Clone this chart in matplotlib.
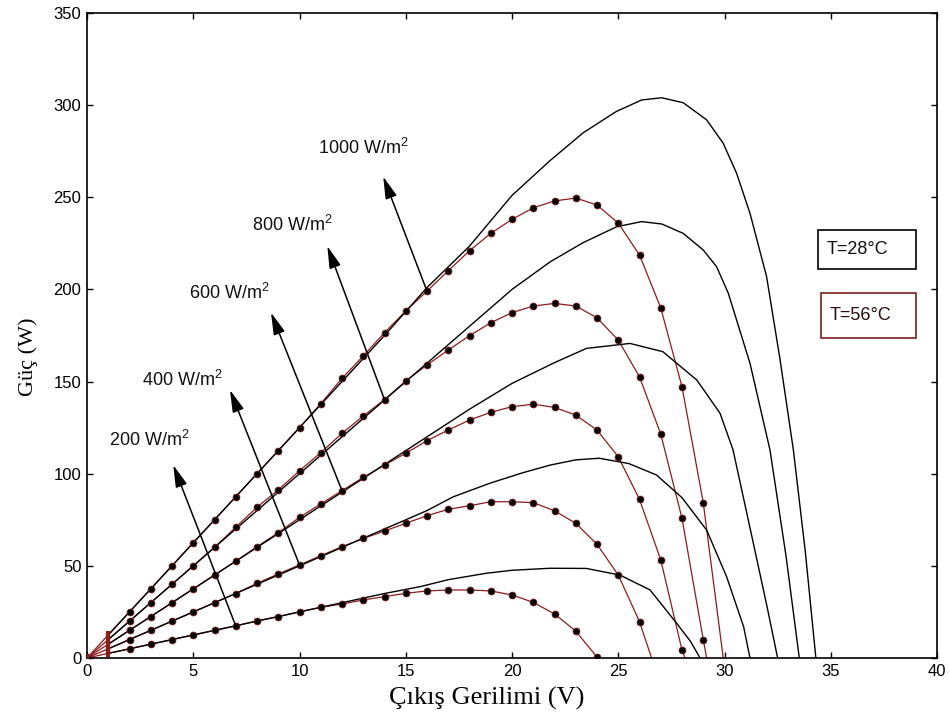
import matplotlib
matplotlib.use("Agg")
import matplotlib.pyplot as plt
from matplotlib.patches import Rectangle

plt.rcParams["font.family"] = ["Liberation Sans", "DejaVu Sans"]
plt.rcParams["mathtext.fontset"] = "custom"
plt.rcParams["mathtext.rm"] = "Liberation Sans"

# ---------------- data ----------------
irradiance_labels = ["200 W/m$\\mathregular{^2}$", "400 W/m$\\mathregular{^2}$",
                     "600 W/m$\\mathregular{^2}$", "800 W/m$\\mathregular{^2}$",
                     "1000 W/m$\\mathregular{^2}$"]

# T = 28 °C (solid black curves)
cold_v_200 = [1, 2, 4, 6, 8, 10, 12, 14, 15.67, 17, 18.8, 20, 21.79, 23.5, 25.08, 26.5, 27.75, 28.4, 28.85]
cold_p_200 = [2.5, 5, 10, 15, 20, 25, 30, 35, 38.7, 42.5, 46, 47.6, 48.7, 48.6, 45, 36.9, 18.8, 9, 0]

cold_v_400 = [1, 2, 4, 6, 8, 10, 12, 14, 16, 17.24, 19, 20.5, 21.8, 23, 24.1, 25.5, 26.8, 28, 29.16, 30.1, 30.9, 31.2]
cold_p_400 = [5, 10, 20, 30, 40, 50, 60, 70, 80, 87.5, 95, 100.5, 104.7, 107.5, 108.4, 105.5, 99.3, 87, 69.4, 44.1, 17, 0]

cold_v_600 = [1, 2, 4, 6, 8, 10, 12, 14, 16, 18, 20, 21.95, 23.5, 25.55, 27.1, 28.7, 29.79, 30.4, 31.4, 32.0, 32.5]
cold_p_600 = [7.5, 15, 30, 45, 60, 75, 90, 105, 120, 135, 149, 160, 168, 170.7, 166.2, 150.8, 132.8, 113, 60, 28, 0]

cold_v_800 = [1, 2, 4, 6, 8, 10, 12, 14, 16, 18, 20, 21.8, 23.35, 24.92, 26.1, 27.05, 28.06, 29, 29.63, 30.18, 31.2, 32.14, 32.9, 33.52]
cold_p_800 = [10, 20, 40, 60, 80, 100, 120, 140, 160, 180, 200, 215, 225.4, 234, 236.8, 235.5, 230.4, 221.4, 212.3, 197.9, 159.9, 112.9, 55, 0]

cold_v_1000 = [1, 2, 4, 6, 8, 10, 12, 14, 16, 18, 20, 21.8, 23.35, 24.9, 26.1, 27.05, 28.06, 29.16, 29.94, 30.57, 31.2, 31.98, 32.6, 33.24, 33.8, 34.3]
cold_p_1000 = [12.5, 25, 50, 75, 100, 125, 150, 175, 201, 223.5, 251, 270, 285, 296.5, 302.8, 304, 301.3, 292, 279.3, 263, 241.3, 207, 163, 113, 58, 0]

# T = 56 °C (dark red curves, sampled every 1 V, last entry = open-circuit voltage)
hot_v_200 = list(range(0, 25))
hot_p_200 = [0, 2.5, 5, 7.5, 10, 12.5, 15, 17.4, 20.2, 22.4, 25.1, 27.5, 29.3, 31.5, 33.3,
             35.1, 36.4, 36.9, 36.9, 36.4, 34.2, 30.2, 23.9, 14.6, 0.5]

hot_v_400 = list(range(0, 27)) + [26.57]
hot_p_400 = [0, 5, 10, 15, 20, 25, 30, 35, 40.5, 45.6, 50.5, 55.5, 60.4, 64.9, 68.9, 73.1,
             77.2, 80.7, 82.6, 84.8, 84.8, 84.3, 79.9, 73.1, 61.7, 45, 19.7, 0]

hot_v_600 = list(range(0, 29)) + [28.14]
hot_p_600 = [0, 7.5, 15, 22.5, 30, 37.5, 45, 52.5, 60.4, 68, 76.3, 83.6, 90.8, 98, 104.7,
             111.1, 117.9, 123.7, 129.1, 133.3, 136.4, 137.7, 136, 131.8, 123.7, 109.2,
             86.1, 53.2, 4.3, 0]

hot_v_800 = list(range(0, 30)) + [29.16]
hot_p_800 = [0, 10, 20, 30, 40, 50, 60, 71, 81.8, 91.2, 101.6, 111.4, 121.9, 131.3, 140.2,
             150.3, 159, 167.1, 174.9, 181.9, 187.4, 191, 192.4, 191, 184.6, 172.5, 152.6,
             121.5, 75.8, 10, 0]

hot_v_1000 = list(range(0, 30)) + [29.94]
hot_p_1000 = [0, 12.5, 25, 37.5, 50, 62.5, 75, 87.5, 100, 112.5, 125, 138, 151.7, 163.9,
              176.5, 188.3, 199.1, 210.1, 221, 230.4, 238, 244.3, 248, 249.6, 245.8, 236,
              218.7, 190, 147.2, 84.3, 0]

# arrows: start on a 56 °C curve sample, pointing to the label
arrow_tail_index = [7, 10, 12, 14, 16]
arrow_head_v = [4.06, 6.73, 8.66, 11.31, 13.94]
arrow_head_p = [104.7, 145.4, 187.4, 223.5, 261.2]
label_v = [2.93, 4.5, 6.7, 9.65, 12.99]
label_p = [118.3, 150.8, 197.9, 234.9, 276.7]

x_ticks = [0, 5, 10, 15, 20, 25, 30, 35, 40]
y_ticks = [0, 50, 100, 150, 200, 250, 300, 350]

# ---------------- figure ----------------
RED = "#8a1c1c"
fig = plt.figure(figsize=(9.49, 7.13), dpi=100)
ax = fig.add_axes([87 / 949, 55 / 713, 850 / 949, 645 / 713])

cold = [(cold_v_200, cold_p_200), (cold_v_400, cold_p_400), (cold_v_600, cold_p_600),
        (cold_v_800, cold_p_800), (cold_v_1000, cold_p_1000)]
hot = [(hot_v_200, hot_p_200), (hot_v_400, hot_p_400), (hot_v_600, hot_p_600),
       (hot_v_800, hot_p_800), (hot_v_1000, hot_p_1000)]

for v, p in hot:
    ax.plot(v, p, color=RED, lw=0.9, zorder=2)
    n_int = sum(1 for x in v if float(x).is_integer())
    ax.plot(v[2:n_int], p[2:n_int], ls="none", marker="o", ms=5,
            mfc="black", mec=RED, mew=0.5, zorder=5)
    ax.plot(v[:2], p[:2], ls="none", marker="|", ms=6, mew=3, color=RED, zorder=4)

for v, p in cold:
    ax.plot(v, p, color="black", lw=1.0, zorder=3)

for (v, p), i, hv, hp, lv, lp, txt in zip(hot, arrow_tail_index, arrow_head_v, arrow_head_p,
                                         label_v, label_p, irradiance_labels):
    ax.annotate("", xy=(hv, hp), xytext=(v[i], p[i]),
                arrowprops=dict(arrowstyle="-|>,head_length=0.75,head_width=0.2",
                                color="black", lw=1.1, mutation_scale=18,
                                shrinkA=0, shrinkB=0), zorder=6)
    ax.text(lv, lp, txt, ha="center", va="center", fontsize=13, color="#111111", zorder=6)

# temperature boxes
ax.add_patch(Rectangle((34.4, 211.1), 4.6, 21.1, fill=False, ec="black", lw=1.2, zorder=6))
ax.text(34.8, 221.6, "T=28°C", ha="left", va="center", fontsize=13, color="#111111", zorder=7)
ax.add_patch(Rectangle((34.56, 173.6), 4.44, 24.4, fill=False, ec="#7a1f1f", lw=1.2, zorder=6))
ax.text(34.93, 186.0, "T=56°C", ha="left", va="center", fontsize=13, color="#2a0c0c", zorder=7)

ax.set_xlim(0, 40)
ax.set_ylim(0, 350)
ax.set_xticks(x_ticks)
ax.set_yticks(y_ticks)
ax.tick_params(direction="in", length=4, width=1, top=True, right=True,
               labelsize=12, pad=4)
for s in ax.spines.values():
    s.set_linewidth(1.2)

fig.text(487 / 949, 1 - 698 / 713, "Çıkış Gerilimi (V)", ha="center", va="center",
         fontsize=19, family="Liberation Serif")
fig.text(28 / 949, 1 - 357 / 713, "Güç (W)", ha="center", va="center", rotation=90,
         fontsize=16, family="Liberation Serif")

fig.savefig("out.png", dpi=100)
